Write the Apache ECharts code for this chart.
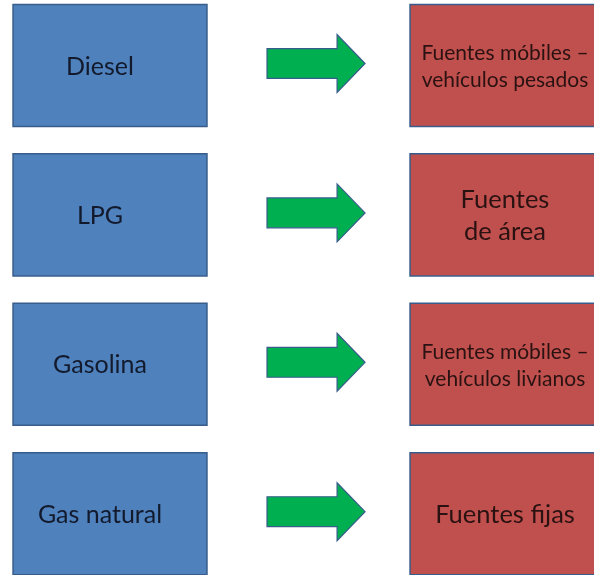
<!DOCTYPE html>
<html>
<head>
<meta charset="utf-8">
<title>Combustibles y fuentes</title>
<script src="https://cdn.jsdelivr.net/npm/echarts@6/dist/echarts.min.js"></script>
<style>
    html, body {
        margin: 0;
        padding: 0;
        background: #ffffff;
    }

    #chart {
        width: 594px;
        height: 575px;
    }
</style>
</head>
<body>
<div id="chart"></div>
<script>
    // datos del diagrama
    const columns = ['Combustible', 'Flecha', 'Fuente'];
    const fuels = ['Diesel', 'LPG', 'Gasolina', 'Gas natural'];
    const sources = [
        'Fuentes móbiles –\nvehículos pesados',
        'Fuentes\nde área',
        'Fuentes móbiles –\nvehículos livianos',
        'Fuentes fijas'
    ];

    const outline = '#385d8a';

    function boxItem(api, fill, textColor, fontSize, lineHeight, dx) {
        const c = api.coord([api.value(0), api.value(1)]);
        const size = api.size([1, 1]);
        const w = size[0] * 0.977;
        const h = size[1] * 0.817;
        return {
            type: 'group',
            children: [
                {
                    type: 'rect',
                    shape: { x: c[0] - w / 2, y: c[1] - h / 2, width: w, height: h },
                    style: { fill: fill, stroke: outline, lineWidth: 1.5 }
                },
                {
                    type: 'text',
                    x: c[0] + dx,
                    y: c[1] + 1,
                    style: {
                        text: api.value(2),
                        fill: textColor,
                        font: fontSize + 'px Lato, "Open Sans", sans-serif',
                        lineHeight: lineHeight,
                        align: 'center',
                        verticalAlign: 'middle'
                    }
                }
            ]
        };
    }

    const chartDom = document.getElementById('chart');
    const myChart = echarts.init(chartDom);
    const option = {
        animation: false,
        grid: {
            left: 0,
            right: 0,
            top: 0,
            bottom: 0
        },
        // columnas y filas como ejes de valor ocultos
        xAxis: {
            type: 'value',
            min: -0.5542,
            max: 2.4383,
            show: false
        },
        yAxis: {
            type: 'value',
            inverse: true,
            min: -0.4384,
            max: 3.4103,
            show: false
        },
        series: [
            {
                name: columns[0],
                type: 'custom',
                clip: false,
                data: fuels.map((name, i) => [0, i, name]),
                renderItem: (params, api) => boxItem(api, '#4f81bd', '#121a2c', 25, 30, -10)
            },
            {
                name: columns[1],
                type: 'custom',
                clip: false,
                data: fuels.map((name, i) => [1, i]),
                renderItem: (params, api) => {
                    const c = api.coord([api.value(0), api.value(1)]);
                    const size = api.size([1, 1]);
                    const cx = c[0] + size[0] * 0.038;
                    const cy = c[1] - 2;
                    const halfW = size[0] * 0.247;
                    const headW = size[0] * 0.141;
                    const bodyH = size[1] * 0.1;
                    const headH = size[1] * 0.194;
                    return {
                        type: 'polygon',
                        shape: {
                            points: [
                                [cx - halfW, cy - bodyH],
                                [cx + halfW - headW, cy - bodyH],
                                [cx + halfW - headW, cy - headH],
                                [cx + halfW, cy],
                                [cx + halfW - headW, cy + headH],
                                [cx + halfW - headW, cy + bodyH],
                                [cx - halfW, cy + bodyH]
                            ]
                        },
                        style: { fill: '#00b050', stroke: outline, lineWidth: 1.2 }
                    };
                }
            },
            {
                name: columns[2],
                type: 'custom',
                clip: false,
                data: sources.map((name, i) => [2, i, name]),
                renderItem: (params, api) => {
                    const small = api.value(2).indexOf('–') >= 0;
                    return boxItem(api, '#c0504d', '#2a1212',
                        small ? 21 : 25.5, small ? 27 : 32, -2);
                }
            }
        ]
    };

    myChart.setOption(option);
</script>
</body>
</html>
